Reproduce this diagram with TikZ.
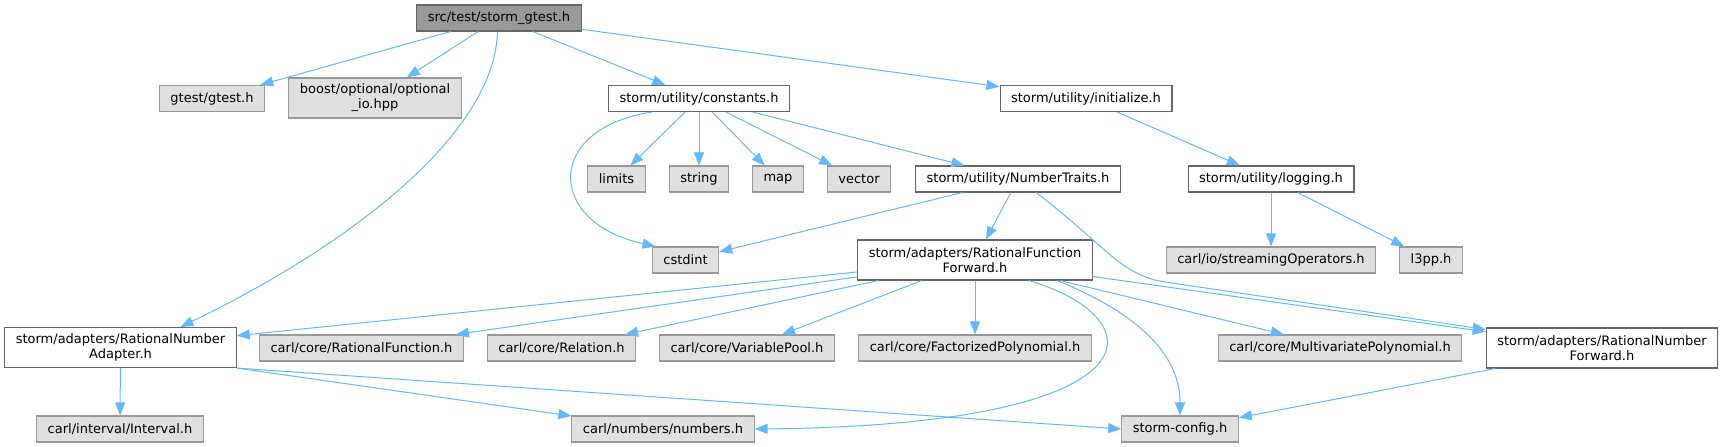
\documentclass[tikz,border=0pt]{standalone}
\usepackage{fontspec}
\setmainfont{DejaVu Sans}
\usepackage{tikz}
\usetikzlibrary{arrows.meta}
\definecolor{edgeblue}{HTML}{63B8FF}
\definecolor{extfill}{HTML}{E0E0E0}
\definecolor{extline}{HTML}{999999}
\definecolor{intline}{HTML}{666666}
\definecolor{rootfill}{HTML}{999999}
\begin{document}
\begin{tikzpicture}[x=1pt,y=-1pt,
  filebox/.style={draw=intline,fill=white,line width=1.1pt,inner xsep=11pt,inner ysep=0pt,minimum height=26pt,align=center,font=\fontsize{13}{15}\selectfont},
  extbox/.style={filebox,draw=extline,fill=extfill},
  rootbox/.style={filebox,fill=rootfill},
  tall/.style={minimum height=40pt},
  dep/.style={draw=edgeblue,line width=1pt,-{Triangle[length=13pt,width=10pt]}}]
  \useasboundingbox (0,0) rectangle (1724,447);
  \node[rootbox] (root) at (499,18) {src/test/storm\_gtest.h};
  \node[extbox] (gtest) at (212,98.5) {gtest/gtest.h}; \node[extbox,tall] (optio) at (375,98) {boost/optional/optional\\\_io.hpp};
  \node[filebox] (consts) at (699,98.5) {storm/utility/constants.h}; \node[filebox] (init) at (1086,98.5) {storm/utility/initialize.h};
  \node[extbox] (limits) at (616.5,179) {limits}; \node[extbox] (string) at (699,179) {string};
  \node[extbox] (map) at (778,179) {map}; \node[extbox] (vector) at (859,179) {vector};
  \node[filebox] (traits) at (1018,179) {storm/utility/NumberTraits.h}; \node[filebox] (logging) at (1271,179) {storm/utility/logging.h};
  \node[extbox] (cstdint) at (685.5,260) {cstdint};
  \node[filebox,tall] (rff) at (975,260) {storm/adapters/RationalFunction\\Forward.h};
  \node[extbox] (streamops) at (1271,260) {carl/io/streamingOperators.h}; \node[extbox] (l3pp) at (1431,260) {l3pp.h};
  \node[filebox,tall] (rna) at (120.5,347.5) {storm/adapters/RationalNumber\\Adapter.h};
  \node[extbox] (ratfun) at (361.5,348) {carl/core/RationalFunction.h}; \node[extbox] (relation) at (561.5,348) {carl/core/Relation.h};
  \node[extbox] (varpool) at (747,348) {carl/core/VariablePool.h}; \node[extbox] (factpoly) at (975,348) {carl/core/FactorizedPolynomial.h};
  \node[extbox] (multipoly) at (1340,348) {carl/core/MultivariatePolynomial.h};
  \node[filebox,tall] (rnf) at (1602,348) {storm/adapters/RationalNumber\\Forward.h};
  \node[extbox] (interval) at (120,429) {carl/interval/Interval.h}; \node[extbox] (numbers) at (663,429) {carl/numbers/numbers.h};
  \node[extbox] (config) at (1180,429) {storm-config.h};

  \foreach \t in {gtest,optio,consts,init} \draw[dep] (root) -- (\t);
  \draw[dep] ([xshift=-1.5pt]root.south) .. controls (495,130) and (360,240) .. ([xshift=60pt]rna.north);
  \foreach \t in {limits,string,map,vector,traits} \draw[dep] (consts) -- (\t);
  \draw[dep] ([xshift=-47pt]consts.south) .. controls (545,128) and (545,222) .. ([xshift=-30pt]cstdint.north);
  \draw[dep] (init) -- (logging); \draw[dep] (logging) -- (streamops); \draw[dep] (logging) -- (l3pp);
  \draw[dep] (traits) -- (cstdint); \draw[dep] (traits) -- (rff);
  \draw[dep] ([xshift=18pt]traits.south) .. controls (1105,245) and (1120,275) .. (1165,282) -- ([yshift=-2pt]rnf.north west);
  \foreach \t in {rna,ratfun,relation,varpool,factpoly,multipoly,rnf} \draw[dep] (rff) -- (\t);
  \draw[dep] ([xshift=54pt]rff.south) .. controls (1160,320) and (1160,425) .. (numbers.east);
  \draw[dep] ([xshift=82pt]rff.south) .. controls (1130,310) and (1180,350) .. (config.north);
  \draw[dep] (rna) -- (interval); \draw[dep] (rna.south east) -- (numbers); \draw[dep] (rna.south east) -- (config.west);
  \draw[dep] (rnf) -- (config);
\end{tikzpicture}
\end{document}
